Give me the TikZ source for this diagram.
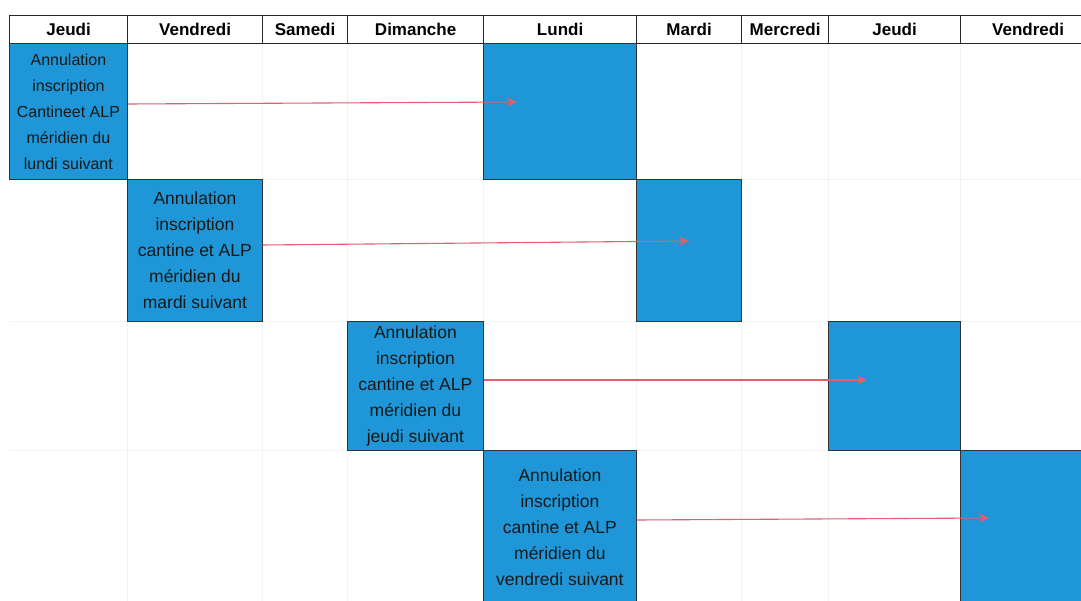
\documentclass[tikz,border=0pt]{standalone}
\usepackage{fontspec}
\setmainfont{Liberation Sans}
\usetikzlibrary{arrows.meta}
\definecolor{cellblue}{RGB}{30,150,215}
\definecolor{arrred}{RGB}{226,96,110}
\definecolor{faint}{RGB}{242,243,245}
\begin{document}
\begin{tikzpicture}[x=1pt,y=-1pt,
  hdr/.style={draw=black!85, line width=1.2pt, minimum height=28pt, anchor=north west, inner sep=0pt,
    font=\fontsize{17}{18}\selectfont\bfseries},
  bluebox/.style={draw=black!80, line width=0.8pt, fill=cellblue, anchor=north west, inner sep=0pt,
    align=center, text=black!90, font=\fontsize{17.5}{26}\selectfont},
  target/.style={draw=black!80, line width=0.8pt, fill=cellblue, anchor=north west, inner sep=0pt},
  arr/.style={draw=arrred, line width=1.1pt, -{Stealth[length=10pt,width=9pt]}},
  gridl/.style={draw=faint, line width=0.8pt}]
\useasboundingbox (0,0) rectangle (1081,601);
\clip (0,0) rectangle (1081,601);
% faint grid
\foreach \x in {127,262,347,483,636,741,828,960}{\draw[gridl] (\x,43) -- (\x,601);}
\foreach \y in {179,321,450}{\draw[gridl] (9,\y) -- (1081,\y);}
% header
\node[hdr, minimum width=118pt] (h1) at (9,15) {Jeudi};
\node[hdr, minimum width=135pt] (h2) at (127,15) {Vendredi};
\node[hdr, minimum width=85pt] (h3) at (262,15) {Samedi};
\node[hdr, minimum width=136pt] (h4) at (347,15) {Dimanche};
\node[hdr, minimum width=153pt] (h5) at (483,15) {Lundi};
\node[hdr, minimum width=105pt] (h6) at (636,15) {Mardi};
\node[hdr, minimum width=87pt] (h7) at (741,15) {Mercredi};
\node[hdr, minimum width=132pt] (h8) at (828,15) {Jeudi};
\node[hdr, minimum width=135pt, text width=121pt, align=center] (h9) at (960,15) {Vendredi};
% source boxes
\node[bluebox, minimum width=118pt, minimum height=136pt, font=\fontsize{16}{26}\selectfont] (s1) at (9,43)
  {Annulation\\inscription\\Cantineet ALP\\méridien du\\lundi suivant};
\node[bluebox, minimum width=135pt, minimum height=142pt] (s2) at (127,179)
  {Annulation\\inscription\\cantine et ALP\\méridien du\\mardi suivant};
\node[bluebox, minimum width=136pt, minimum height=129pt] (s3) at (347,321)
  {Annulation\\inscription\\cantine et ALP\\méridien du\\jeudi suivant};
\node[bluebox, minimum width=153pt, minimum height=154pt] (s4) at (483,450)
  {Annulation\\inscription\\cantine et ALP\\méridien du\\vendredi suivant};
% target boxes
\node[target, minimum width=153pt, minimum height=136pt] (t1) at (483,43) {};
\node[target, minimum width=105pt, minimum height=142pt] (t2) at (636,179) {};
\node[target, minimum width=132pt, minimum height=129pt] (t3) at (828,321) {};
\node[target, minimum width=140pt, minimum height=160pt] (t4) at (960,450) {};
% arrow ends
\coordinate (e1) at (517,102);
\coordinate (e2) at (689,241);
\coordinate (e3) at (867,380);
\coordinate (e4) at (989,518);
\draw[arr] (s1.east |- 0,104) -- (e1);
\draw[arr] (s2.east |- 0,245) -- (e2);
\draw[arr] (s3.east |- 0,380) -- (e3);
\draw[arr] (s4.east |- 0,520) -- (e4);
\end{tikzpicture}
\end{document}
